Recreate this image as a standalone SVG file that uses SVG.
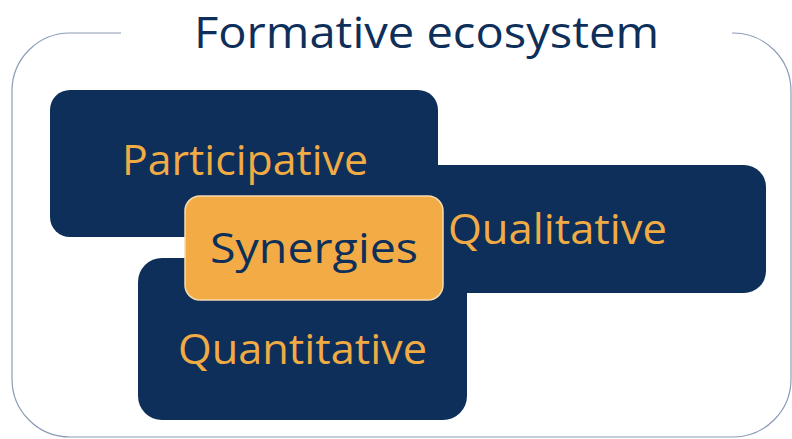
<svg xmlns="http://www.w3.org/2000/svg" width="792" height="439" viewBox="0 0 792 439">
<style>
.box{fill:#0d2f5a;}
.lbl{font-family:"Open Sans","Noto Sans",sans-serif;font-size:42px;fill:#f1ab45;}
.title{font-family:"Open Sans","Noto Sans",sans-serif;font-size:43px;fill:#0d2f5a;}
.frame{fill:none;stroke:#8b9cb6;stroke-width:1.2;}
</style>
<rect width="792" height="439" fill="#ffffff"/>
<g id="frame">
<path class="frame" d="M121,33 H70 A58,58 0 0 0 12,91 V379 A58,58 0 0 0 70,437 H733 A58,58 0 0 0 791,379 V91 A58,58 0 0 0 733,33 H732"/>
<text class="title" x="194" y="48" textLength="465" lengthAdjust="spacingAndGlyphs">Formative ecosystem</text>
</g>
<g id="connectors"></g>
<g id="qualitative">
<rect class="box" x="300" y="165" width="466" height="128" rx="22"/>
<text class="lbl" x="448" y="244" textLength="219" lengthAdjust="spacingAndGlyphs">Qualitative</text>
</g>
<g id="participative">
<rect class="box" x="50" y="90" width="388" height="147" rx="20"/>
<text class="lbl" x="122" y="175" textLength="246" lengthAdjust="spacingAndGlyphs">Participative</text>
</g>
<g id="quantitative">
<rect class="box" x="138" y="258" width="329" height="162" rx="24"/>
<text class="lbl" x="178" y="364" textLength="249" lengthAdjust="spacingAndGlyphs">Quantitative</text>
</g>
<g id="synergies">
<rect x="185" y="196" width="258" height="104" rx="15" fill="#f2ab45" stroke="#f7dcb0" stroke-width="1.5"/>
<text x="210" y="263" textLength="208" lengthAdjust="spacingAndGlyphs" style="font-family:'Open Sans','Noto Sans',sans-serif;font-size:42px;fill:#0d2f5a;">Synergies</text>
</g>
</svg>
